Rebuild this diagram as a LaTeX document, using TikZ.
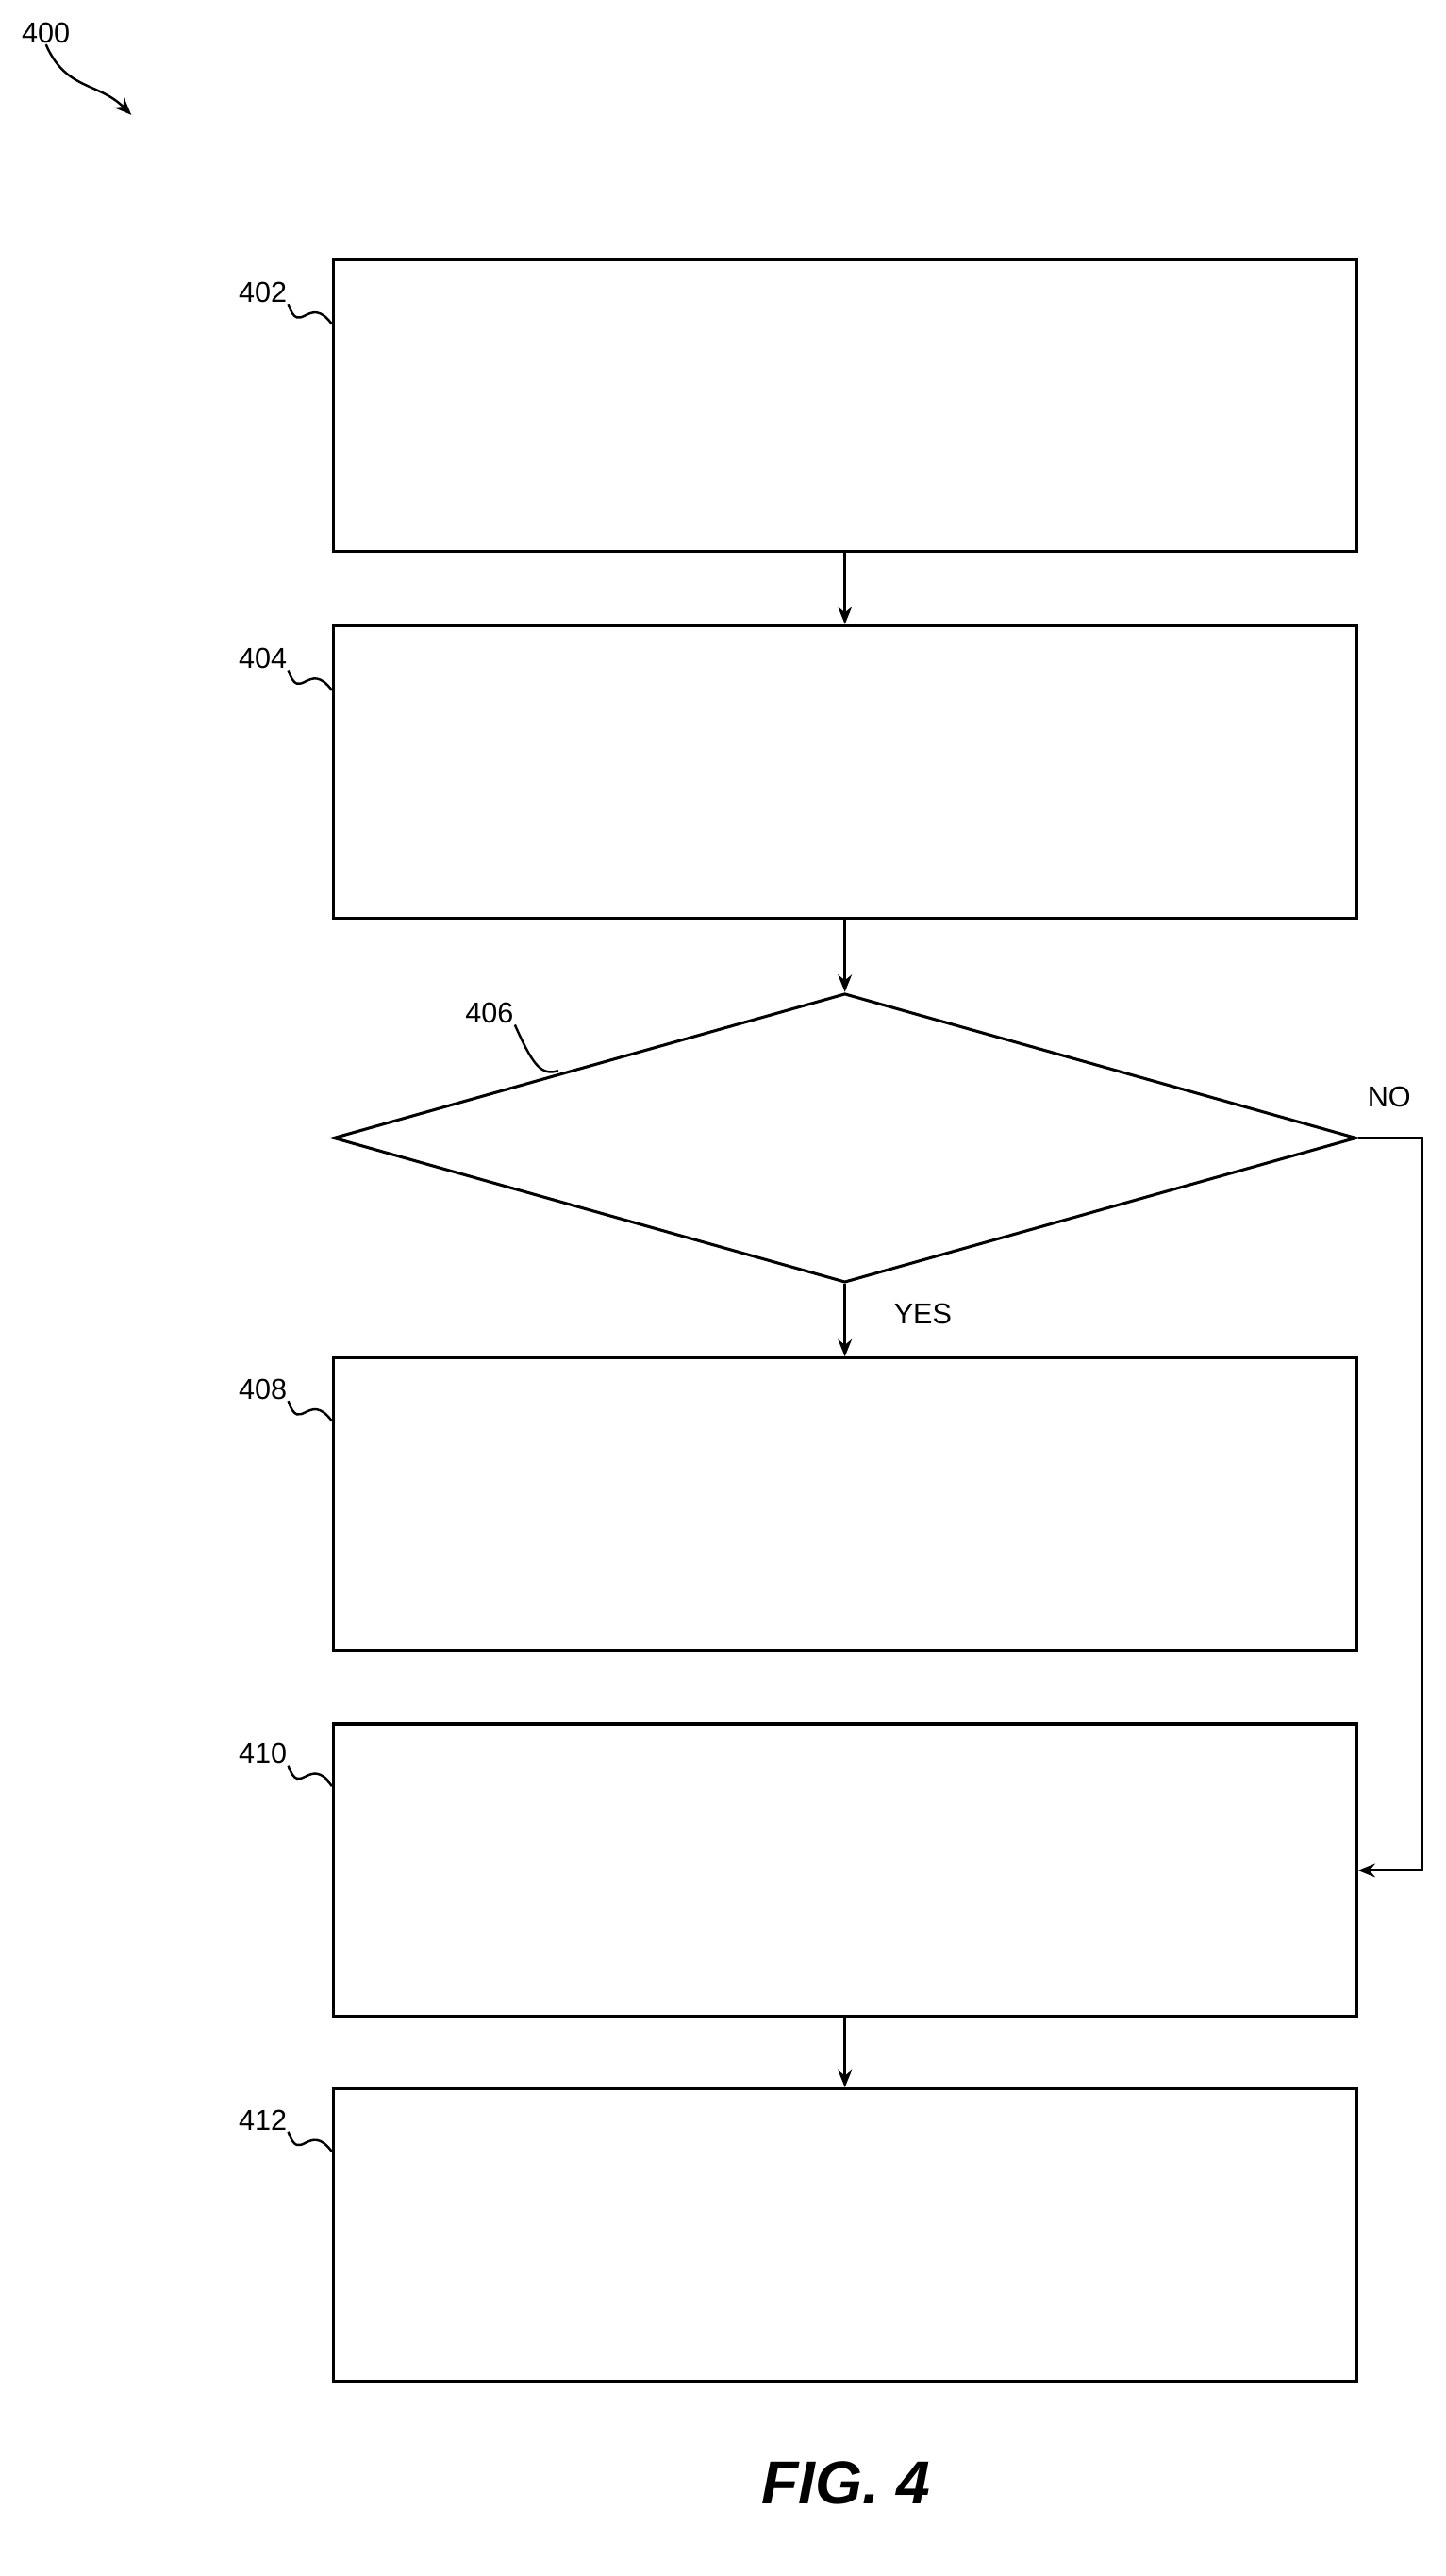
\documentclass[tikz,border=0pt]{standalone}
\usepackage{fontspec}
\setmainfont{Liberation Sans}
\usetikzlibrary{arrows.meta, shapes.geometric, positioning}

\begin{document}
\begin{tikzpicture}[x=0.1cm,y=-0.1cm,>={Stealth[length=30pt,width=24pt]},line width=5pt,
  step box/.style={draw,rectangle,minimum width=62.3cm,minimum height=17.8cm,inner sep=0pt},
  test box/.style={draw,diamond,minimum width=62.3cm,minimum height=17.6cm,inner sep=0pt,aspect=3.5},
  ref/.style={font=\fontsize{50}{52}\selectfont,inner sep=0pt},
  lead/.style={line width=4pt}]
  \useasboundingbox (0,0) rectangle (880,1568.7);
  \node[step box] (402) at (514.5,247) {};
  \node[step box] (404) at (514.5,470) {};
  \node[test box] (406) at (514.5,693) {};
  \node[step box] (408) at (514.5,916) {};
  \node[step box] (410) at (514.5,1139) {};
  \node[step box] (412) at (514.5,1361) {};
  % reference numerals
  \node[ref] (l400) at (28,20) {400};
  \node[ref] (l402) at (160,178) {402};
  \node[ref] (l404) at (160,401) {404};
  \node[ref] (l406) at (298,617) {406};
  \node[ref] (l408) at (160,846) {408};
  \node[ref] (l410) at (160,1068) {410};
  \node[ref] (l412) at (160,1291) {412};
  \node[ref] (no) at (846,668) {NO};
  \node[ref] (yes) at (562,800) {YES};
  \node[font=\fontsize{105}{110}\selectfont\itshape\bfseries] (fig) at (515,1512) {FIG. 4};
  \coordinate (c400) at (80,70);
  \draw[lead,->] (l400.south) .. controls (40,55) and (60,50) .. (c400);
  \foreach \n in {402,404,408,410,412}
    \draw[lead] (l\n.south east) .. controls ([xshift=20pt,yshift=-60pt]l\n.south east) and ([xshift=-40pt,yshift=20pt]\n.west|-l\n.south east) .. ([yshift=-35pt]\n.west|-l\n.south east);
  \draw[lead] (l406.south east) .. controls (325,650) and (330,655) .. (340,652);
  % connectors
  \draw[->] (402) -- (404);
  \draw[->] (404) -- (406);
  \draw[->] (406) -- (408);
  \draw[->] (410) -- (412);
  \coordinate (r1) at (866,693);
  \coordinate (r2) at (866,1139);
  \draw[->] (406.east) -- (r1) -- (r2) -- (410.east);
\end{tikzpicture}
\end{document}
